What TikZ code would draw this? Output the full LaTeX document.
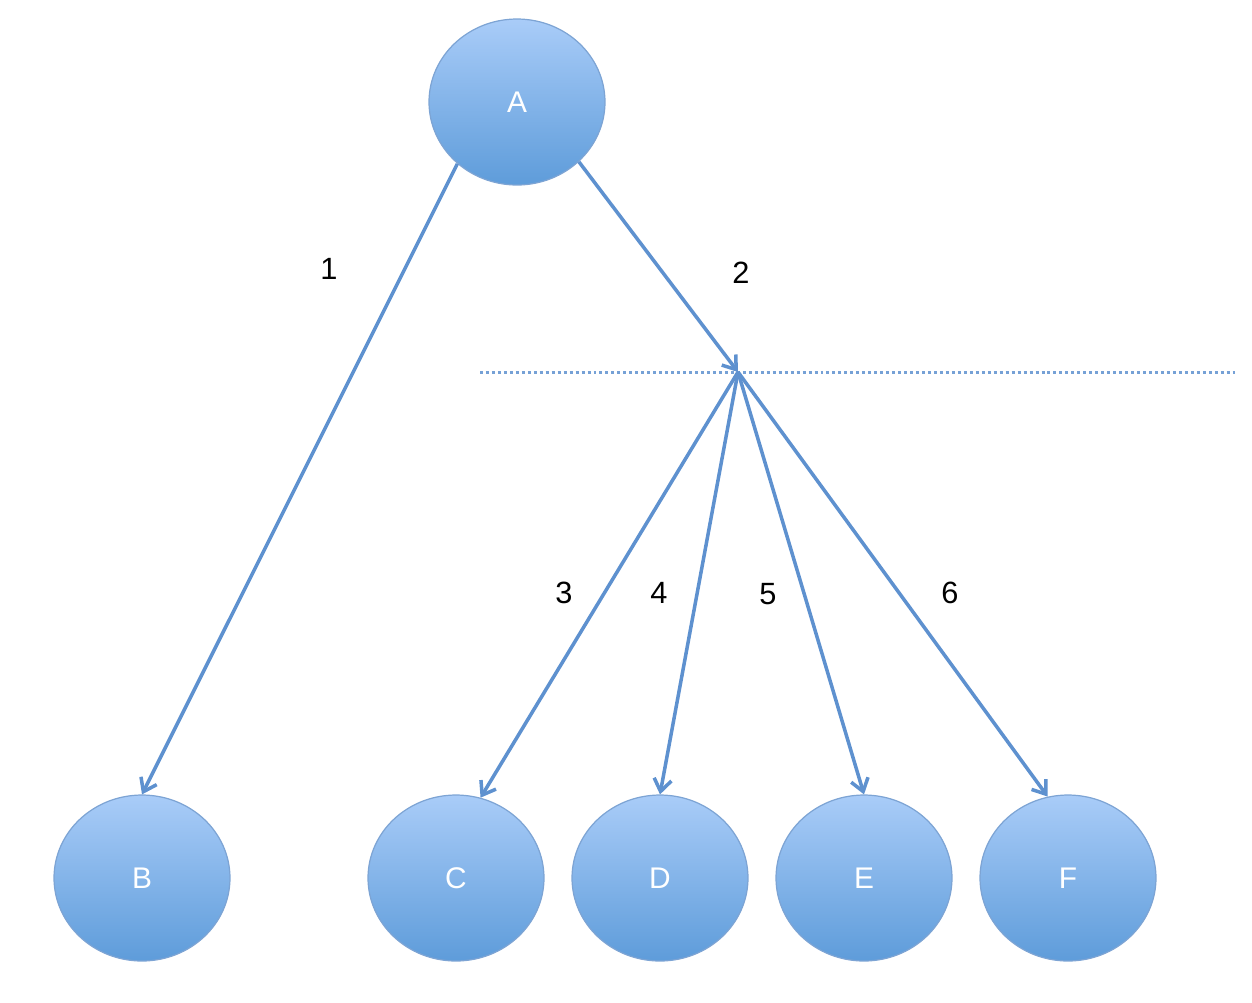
\documentclass[tikz,border=0pt]{standalone}
\usepackage{fontspec}
\setmainfont{Liberation Sans}
\usepackage{tikz}
\usetikzlibrary{arrows.meta, shapes.geometric}

\definecolor{edgeblue}{HTML}{5E91CF}
\definecolor{rimblue}{HTML}{7DA4D4}
\definecolor{topblue}{HTML}{A9CCF8}
\definecolor{botblue}{HTML}{5E9CDA}

\tikzset{
  ball/.style={ellipse, draw=rimblue, line width=0.7pt, top color=topblue, bottom color=botblue,
    minimum width=3.52cm, minimum height=3.32cm, inner sep=0pt, text=white,
    font=\fontsize{17}{20}\selectfont},
  link/.style={draw=edgeblue, line width=2pt, -{Straight Barb[length=7pt, width=10pt, line width=2pt]}},
  num/.style={font=\fontsize{17.5}{20}\selectfont}
}

\begin{document}
\begin{tikzpicture}[x=0.02cm, y=-0.02cm]
\useasboundingbox (0,0) rectangle (1252,1002);
\node[ball] (A) at (517,102) {A};
\node[ball] (B) at (142,878) {B};
\node[ball] (C) at (456,878) {C};
\node[ball] (D) at (660,878) {D};
\node[ball] (E) at (864,878) {E};
\node[ball] (F) at (1068,878) {F};
\coordinate (j) at (738,372);
\coordinate (cutl) at (480,372);
\coordinate (cutr) at (1235,372);
% cut line
\draw[edgeblue!85, line width=1.7pt, dash pattern=on 1.7pt off 1.7pt] (cutl)--(cutr);
\draw[link] (A.226)--(B.north);
\draw[link] (A.316)--(j);
\draw[link] (j)--(C.73);
\draw[link] (j)--(D.north);
\draw[link] (j)--(E.north);
\draw[link] (j)--(F.104);
\node[num] (n1) at (329,269) {1};
\node[num] (n2) at (741,273) {2};
\node[num] (n3) at (564,593) {3};
\node[num] (n4) at (659,593) {4};
\node[num] (n5) at (768,594) {5};
\node[num] (n6) at (950,593) {6};
\end{tikzpicture}
\end{document}
